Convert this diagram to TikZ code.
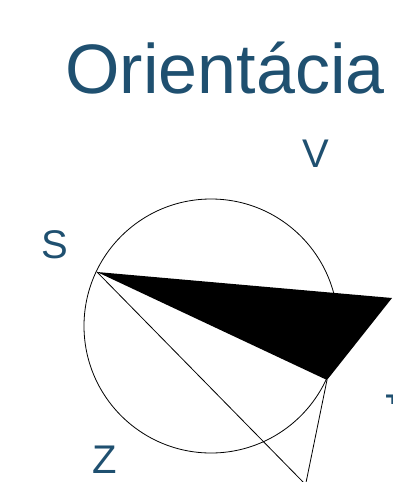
\documentclass[tikz,border=0pt]{standalone}
\usepackage{fontspec}
\setmainfont{Liberation Sans}
\definecolor{titleblue}{RGB}{31,80,112}
\begin{document}
\begin{tikzpicture}[x=1pt,y=-1pt,
  lbl/.style={text=titleblue,font=\fontsize{40}{40}\selectfont,inner sep=0pt,anchor=base},
  thin line/.style={line width=0.8pt,black}]
\useasboundingbox (0,0) rectangle (392,482);
\clip (0,0) rectangle (392,482);
\node[text=titleblue,font=\fontsize{70}{70}\selectfont,inner sep=0pt,anchor=base] (title) at (225,93) {Orientácia};
\node[lbl] (V) at (316,167) {V};
\node[lbl] (Sl) at (54.5,258) {S};
\node[lbl] (Z) at (105,473) {Z};
\begin{scope}
\clip (386,390) rectangle (392,403);
\node[lbl,anchor=base west] (J) at (378,422) {J};
\end{scope}
\coordinate (C) at (211,326);
\coordinate (A) at (97,272);
\coordinate (B) at (392,298);
\coordinate (D) at (327,380);
\coordinate (E) at (305.6,484.6);
\draw[thin line] (C) circle[radius=127pt];
\fill[black] (A) -- (B) -- (D) -- cycle;
\draw[thin line] (A) -- (E) -- (D);
\end{tikzpicture}
\end{document}
